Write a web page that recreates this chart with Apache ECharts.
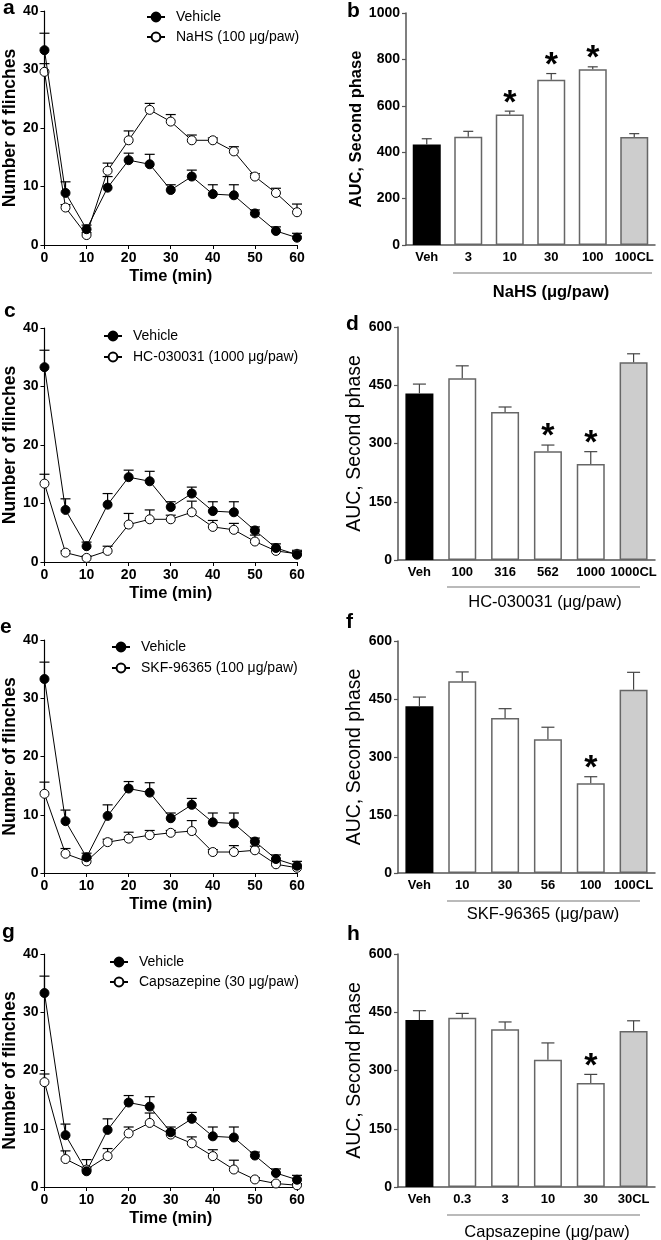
<!DOCTYPE html>
<html><head><meta charset="utf-8">
<script src="https://cdn.jsdelivr.net/npm/echarts@6/dist/echarts.min.js"></script>
<style>html,body{margin:0;padding:0;background:#fff}#c{width:661px;height:1240px}</style>
</head><body><div id="c"></div>
<script>
// ---------- DATA ----------
const timePoints = [0, 5, 10, 15, 20, 25, 30, 35, 40, 45, 50, 55, 60];
const vehicleMean = [33.3, 8.9, 2.7, 9.8, 14.5, 13.8, 9.4, 11.7, 8.7, 8.5, 5.4, 2.4, 1.25];
const vehicleSem  = [2.9, 1.9, 0.7, 1.9, 1.2, 1.7, 0.9, 1.1, 1.6, 1.8, 0.6, 0.7, 0.75];
const nahsMean = [29.6, 6.4, 1.7, 12.7, 17.9, 23.1, 21.1, 17.9, 17.9, 16.0, 11.7, 8.9, 5.6];
const nahsSem  = [1.4, 0.5, 0.4, 1.3, 1.6, 1.1, 1.2, 0.9, 0.4, 0.8, 0.5, 0.8, 1.4];
const hcMean = [13.4, 1.6, 0.7, 1.9, 6.4, 7.3, 7.3, 8.5, 6.0, 5.5, 3.5, 1.9, 1.4];
const hcSem  = [1.6, 0.3, 0.3, 0.8, 1.9, 1.6, 0.7, 1.9, 1.1, 1.1, 1.1, 0.4, 0.4];
const skfMean = [13.6, 3.3, 2.0, 5.3, 5.9, 6.5, 6.9, 7.2, 3.6, 3.6, 3.9, 1.5, 0.9];
const skfSem  = [2.0, 0.9, 0.5, 0.5, 1.1, 0.8, 0.4, 1.8, 0.4, 1.1, 0.7, 0.4, 0.3];
const capsMean = [18.0, 4.8, 3.0, 5.3, 9.2, 11.0, 9.0, 7.5, 5.3, 3.0, 1.3, 0.6, 0.3];
const capsSem  = [1.4, 1.4, 1.7, 1.3, 1.1, 1.7, 0.7, 1.1, 1.1, 1.6, 0.3, 0.3, 0.3];
const lineNames = ['NaHS (100 μg/paw)', 'HC-030031 (1000 μg/paw)', 'SKF-96365 (100 μg/paw)', 'Capsazepine (30 μg/paw)'];

const nahsCats = ['Veh', '3', '10', '30', '100', '100CL'];
const nahsAuc  = [433, 467, 562, 712, 758, 466];
const nahsAucSem = [25, 23, 15, 27, 10, 14];
const nahsStar = [0, 0, 1, 1, 1, 0];
const hcCats = ['Veh', '100', '316', '562', '1000', '1000CL'];
const hcAuc  = [429, 468, 381, 280, 247, 509];
const hcAucSem = [24, 32, 13, 16, 32, 22];
const hcStar = [0, 0, 0, 1, 1, 0];
const skfCats = ['Veh', '10', '30', '56', '100', '100CL'];
const skfAuc  = [431, 496, 401, 346, 232, 474];
const skfAucSem = [24, 24, 24, 31, 17, 45];
const skfStar = [0, 0, 0, 0, 1, 0];
const capsCats = ['Veh', '0.3', '3', '10', '30', '30CL'];
const capsAuc  = [430, 436, 406, 328, 268, 402];
const capsAucSem = [24, 11, 19, 43, 22, 26];
const capsStar = [0, 0, 0, 0, 1, 0];
const barTitles = ['NaHS (μg/paw)', 'HC-030031 (μg/paw)', 'SKF-96365 (μg/paw)', 'Capsazepine (μg/paw)'];
const barAxisMax = [1000, 600, 600, 600];
const barAxisStep = [200, 150, 150, 150];
const lineAxisMax = 40, lineAxisStep = 10, timeMax = 60, timeStep = 10;

// ---------- LAYOUT ----------
const FONT = 'Liberation Sans, Arial, sans-serif';
const lineLayout = [
  {left: 43, width: 254, top: 11, bottom: 245, legend: [146, 10, 6]},
  {left: 43, width: 254, top: 328, bottom: 562, legend: [103, 329, 7]},
  {left: 43, width: 254, top: 640, bottom: 873, legend: [111, 640, 7]},
  {left: 43, width: 254, top: 954, bottom: 1187, legend: [109, 955, 6]}
];
const barLayout = [
  {left: 406, width: 249, top: 13, bottom: 245, ul: [453, 652, 273], tt: [551, 292], bold: true, yFont: 16.5, yGap: 22, capW: 10},
  {left: 398, width: 257, top: 327, bottom: 560, ul: [447, 640, 587], tt: [545, 602], bold: false, yFont: 19.5, yGap: 28, capW: 13},
  {left: 398, width: 257, top: 641, bottom: 873, ul: [447, 640, 901], tt: [543, 914], bold: false, yFont: 19.5, yGap: 28, capW: 13},
  {left: 398, width: 257, top: 954, bottom: 1187, ul: [447, 640, 1215], tt: [547, 1232], bold: false, yFont: 19.5, yGap: 28, capW: 13}
];
const letters = [['a', 3, 14], ['b', 347, 17], ['c', 4, 317], ['d', 346, 330], ['e', 0, 633], ['f', 346, 628], ['g', 2, 938], ['h', 347, 940]];

const lineSets = [
  {mean: nahsMean, sem: nahsSem},
  {mean: hcMean, sem: hcSem},
  {mean: skfMean, sem: skfSem},
  {mean: capsMean, sem: capsSem}
];
const barSets = [
  {cats: nahsCats, mean: nahsAuc, sem: nahsAucSem, star: nahsStar},
  {cats: hcCats, mean: hcAuc, sem: hcAucSem, star: hcStar},
  {cats: skfCats, mean: skfAuc, sem: skfAucSem, star: skfStar},
  {cats: capsCats, mean: capsAuc, sem: capsAucSem, star: capsStar}
];

const grid = [], xAxis = [], yAxis = [], series = [], legend = [], graphic = [];
const plain = function (v) { return String(v); };

function errorSeries(axisIdx, data, capW, color, z, withStar) {
  return {
    type: 'custom', xAxisIndex: axisIdx, yAxisIndex: axisIdx, z: z, silent: true, animation: false,
    data: data,
    renderItem: function (params, api) {
      const p0 = api.coord([api.value(0), api.value(1)]);
      const p1 = api.coord([api.value(0), api.value(2)]);
      const ch = [
        {type: 'line', shape: {x1: p0[0], y1: p0[1], x2: p1[0], y2: p1[1]}, style: {stroke: color, lineWidth: 1.2}},
        {type: 'line', shape: {x1: p1[0] - capW / 2, y1: p1[1], x2: p1[0] + capW / 2, y2: p1[1]}, style: {stroke: color, lineWidth: 1.2}}
      ];
      if (withStar && api.value(3)) {
        ch.push({type: 'text', x: p1[0], y: p1[1] + 9, style: {text: '*', align: 'center', verticalAlign: 'bottom', font: 'bold 34px ' + FONT, fill: '#000'}});
      }
      return {type: 'group', children: ch};
    }
  };
}

lineLayout.forEach(function (L, k) {
  const idx = grid.length;
  grid.push({left: L.left, width: L.width, top: L.top, height: L.bottom - L.top, containLabel: false});
  xAxis.push({
    type: 'value', gridIndex: idx, min: 0, max: timeMax, interval: timeStep,
    axisLine: {show: true, lineStyle: {color: '#000', width: 1.2}},
    axisTick: {show: true, length: 4, lineStyle: {color: '#000'}},
    axisLabel: {fontFamily: FONT, fontWeight: 'bold', fontSize: 14, color: '#000', margin: 6, formatter: plain},
    splitLine: {show: false},
    name: 'Time (min)', nameLocation: 'middle', nameGap: 23,
    nameTextStyle: {fontFamily: FONT, fontWeight: 'bold', fontSize: 16.5, color: '#000'}
  });
  yAxis.push({
    type: 'value', gridIndex: idx, min: 0, max: lineAxisMax, interval: lineAxisStep,
    axisLine: {show: true, lineStyle: {color: '#000', width: 1.2}},
    axisTick: {show: true, length: 4, lineStyle: {color: '#000'}},
    axisLabel: {fontFamily: FONT, fontWeight: 'bold', fontSize: 14, color: '#000', margin: 6, formatter: plain},
    splitLine: {show: false},
    name: 'Number of flinches', nameLocation: 'middle', nameGap: 24,
    nameTextStyle: {fontFamily: FONT, fontWeight: 'bold', fontSize: 17.5, color: '#000'}
  });
  const S = lineSets[k];
  series.push(errorSeries(idx, timePoints.map(function (t, i) { return [t, S.mean[i], S.mean[i] + S.sem[i]]; }), 10, '#000', 1, false));
  series.push(errorSeries(idx, timePoints.map(function (t, i) { return [t, vehicleMean[i], vehicleMean[i] + vehicleSem[i]]; }), 10, '#000', 1, false));
  series.push({
    type: 'line', name: lineNames[k], xAxisIndex: idx, yAxisIndex: idx, z: 2, animation: false,
    data: timePoints.map(function (t, i) { return [t, S.mean[i]]; }),
    symbol: 'circle', symbolSize: 9, showAllSymbol: true,
    lineStyle: {color: '#000', width: 1},
    itemStyle: {color: '#fff', borderColor: '#000', borderWidth: 1}
  });
  series.push({
    type: 'line', name: 'Vehicle', xAxisIndex: idx, yAxisIndex: idx, z: 3, animation: false,
    data: timePoints.map(function (t, i) { return [t, vehicleMean[i]]; }),
    symbol: 'circle', symbolSize: 9, showAllSymbol: true,
    lineStyle: {color: '#000', width: 1},
    itemStyle: {color: '#000', borderColor: '#000', borderWidth: 1}
  });
  legend.push({
    data: ['Vehicle', lineNames[k]], orient: 'vertical', left: L.legend[0], top: L.legend[1], itemGap: L.legend[2],
    itemWidth: 18, itemHeight: 11, selectedMode: false, padding: 0,
    textStyle: {fontFamily: FONT, fontSize: 14, color: '#000', padding: [0, 0, 0, 6]}
  });
});

barLayout.forEach(function (L, k) {
  const idx = grid.length;
  const B = barSets[k];
  const n = B.cats.length;
  grid.push({left: L.left, width: L.width, top: L.top, height: L.bottom - L.top, containLabel: false});
  xAxis.push({
    type: 'category', gridIndex: idx, data: B.cats,
    axisLine: {show: true, lineStyle: {color: '#555', width: 1.5}},
    axisTick: {show: false},
    axisLabel: {interval: 0, fontFamily: FONT, fontWeight: 'bold', fontSize: 13, color: '#000', margin: 6}
  });
  yAxis.push({
    type: 'value', gridIndex: idx, min: 0, max: barAxisMax[k], interval: barAxisStep[k],
    axisLine: {show: true, lineStyle: {color: '#555', width: 1.5}},
    axisTick: {show: true, length: 4, lineStyle: {color: '#555', width: 1.2}},
    axisLabel: {fontFamily: FONT, fontWeight: 'bold', fontSize: 14, color: '#000', margin: 6, formatter: plain},
    splitLine: {show: false},
    name: 'AUC, Second phase', nameLocation: 'middle', nameGap: L.yGap,
    nameTextStyle: {fontFamily: FONT, fontWeight: L.bold ? 'bold' : 'normal', fontSize: L.yFont, color: '#000'}
  });
  series.push({
    type: 'bar', xAxisIndex: idx, yAxisIndex: idx, barWidth: 28, z: 2, animation: false,
    data: B.mean.map(function (v, i) {
      const first = i === 0, last = i === n - 1;
      return {value: v, itemStyle: {
        color: first ? '#000' : (last ? '#cdcdcd' : '#fff'),
        borderColor: first ? '#000' : '#666', borderWidth: 1.5
      }};
    })
  });
  series.push(errorSeries(idx, B.mean.map(function (v, i) { return [i, v, v + B.sem[i], B.star[i]]; }), L.capW, '#444', 3, true));
  graphic.push({type: 'line', silent: true, shape: {x1: L.ul[0], y1: L.ul[2], x2: L.ul[1], y2: L.ul[2]}, style: {stroke: '#777', lineWidth: 1.2}});
  graphic.push({type: 'text', silent: true, x: L.tt[0], y: L.tt[1], style: {text: barTitles[k], align: 'center', verticalAlign: 'middle', font: (L.bold ? 'bold ' : '') + '16.5px ' + FONT, fill: '#000'}});
});

letters.forEach(function (l) {
  graphic.push({type: 'text', silent: true, x: l[1], y: l[2] - 6, style: {text: l[0], align: 'left', verticalAlign: 'middle', font: 'bold 21px ' + FONT, fill: '#000'}});
});

const chart = echarts.init(document.getElementById('c'), null, {renderer: 'canvas'});
chart.setOption({
  backgroundColor: '#fff', animation: false,
  grid: grid, xAxis: xAxis, yAxis: yAxis, series: series, legend: legend, graphic: graphic
});
</script></body></html>
